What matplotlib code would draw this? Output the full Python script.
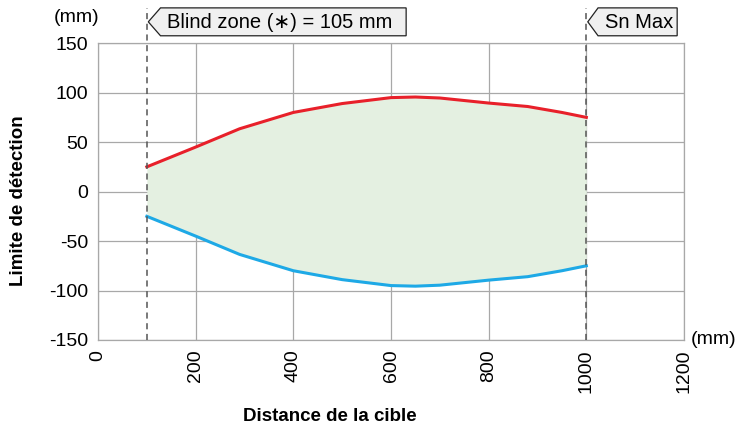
import numpy as np
import matplotlib.pyplot as plt
from matplotlib.patches import Polygon
from matplotlib.transforms import blended_transform_factory

plt.rcParams['font.family'] = ['Liberation Sans', 'DejaVu Sans']

# detection limit (mm)
distance = [100, 200, 290, 400, 500, 600, 650, 700, 800, 880, 950, 1000]
upper = [25, 45, 63.5, 80, 89, 95, 95.6, 94.6, 89.5, 86, 80, 75]
lower = [-25, -45, -63.5, -80, -89, -95, -95.6, -94.6, -89.5, -86, -80, -75]

x_ticks = [0, 200, 400, 600, 800, 1000, 1200]
y_ticks = [-150, -100, -50, 0, 50, 100, 150]
blind_zone = 100
sn_max = 1000

fig = plt.figure(figsize=(7.43, 4.32), dpi=100)
ax = fig.add_axes([0.1319, 0.213, 0.7887, 0.687])

ax.fill_between(distance, lower, upper, color='#e4f0e1', lw=0)
ax.plot(distance, upper, color='#e8202a', lw=2.2)
ax.plot(distance, lower, color='#1ea9e6', lw=2.2)

ax.set_xlim(0, 1200)
ax.set_ylim(-150, 150)
ax.set_xticks(x_ticks)
ax.set_yticks(y_ticks)
ax.set_xticklabels([str(v) for v in x_ticks], rotation=90, fontsize=14)
ax.set_yticklabels([str(v) for v in y_ticks], fontsize=14)
ax.tick_params(length=0, pad=7)
ax.grid(True, color='#a8a8a8', lw=0.9)
for s in ax.spines.values():
    s.set_color('#a8a8a8')
    s.set_linewidth(0.9)
ax.set_axisbelow(True)

ax.set_xlabel('Distance de la cible', fontsize=13.5, fontweight='bold')
ax.xaxis.set_label_coords(0.396, -0.23)
ax.set_ylabel('Limite de détection', fontsize=13.5, fontweight='bold')
ax.yaxis.set_label_coords(-0.121, 0.47)

ax.text(-0.036, 1.085, '(mm)', transform=ax.transAxes, fontsize=14,
        ha='center', va='center')
ax.text(1.012, 0.0, '(mm)', transform=ax.transAxes, fontsize=14,
        ha='left', va='center')

tr = blended_transform_factory(ax.transData, ax.transAxes)
for xv in [blind_zone, sn_max]:
    ax.plot([xv, xv], [0, 1.12], transform=tr, color='#555555', lw=1.1,
            ls=(0, (4, 3)), clip_on=False, zorder=5)

def tag(x0, x1, x2, label):
    pts = [(x0, 1.072), (x1, 1.119), (x2, 1.119), (x2, 1.025), (x1, 1.025)]
    ax.add_patch(Polygon(pts, closed=True, transform=tr, facecolor='#f0f0f0',
                         edgecolor='#222222', lw=0.9, clip_on=False, zorder=6))
    ax.text(x1 + 14, 1.07, label, transform=tr, fontsize=14.5,
            ha='left', va='center', zorder=7)

tag(blind_zone + 3, blind_zone + 28, 631, 'Blind zone (\u2217) = 105 mm')
tag(sn_max + 3, sn_max + 24, 1186, 'Sn Max')

fig.savefig('out.png', dpi=100)
